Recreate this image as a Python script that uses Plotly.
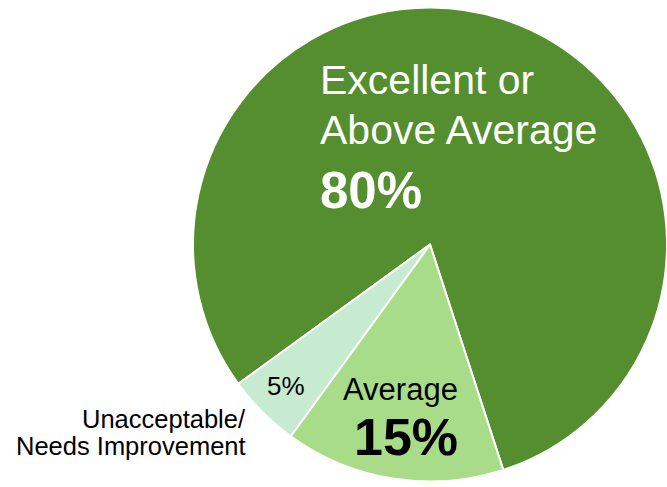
import plotly.graph_objects as go

# Survey rating shares
categories = ["Excellent or Above Average", "Average", "Unacceptable/ Needs Improvement"]
shares = [80, 15, 5]
slice_colors = ["#548E2E", "#A8DC88", "#C7EBD0"]

W, H = 667, 487
M = dict(l=193, r=0, t=7, b=5)
PW = W - M["l"] - M["r"]
PH = H - M["t"] - M["b"]


def px(x):
    return (x - M["l"]) / PW


def py(y):
    return 1 - (y - M["t"]) / PH


fig = go.Figure(
    go.Pie(
        labels=categories,
        values=shares,
        sort=False,
        direction="clockwise",
        rotation=234,
        marker=dict(colors=slice_colors, line=dict(color="white", width=2)),
        textinfo="none",
        hoverinfo="label+percent",
        showlegend=False,
    )
)

FONT = "Liberation Sans, Arial, sans-serif"
pct = [f"{v}%" for v in shares]

annotations = [
    # large slice
    dict(text="Excellent or", x=px(318), y=py(80), xanchor="left",
         font=dict(size=41, color="white")),
    dict(text="Above Average", x=px(318), y=py(129.5), xanchor="left",
         font=dict(size=41, color="white")),
    dict(text=f"<b>{pct[0]}</b>", x=px(318), y=py(190), xanchor="left",
         font=dict(size=51, color="white")),
    # middle slice
    dict(text="Average", x=px(400), y=py(389.5), xanchor="center",
         font=dict(size=31, color="black")),
    dict(text=f"<b>{pct[1]}</b>", x=px(406), y=py(436.5), xanchor="center",
         font=dict(size=52, color="black")),
    # small slice
    dict(text=pct[2], x=px(286), y=py(385.5), xanchor="center",
         font=dict(size=26, color="black")),
    dict(text="Unacceptable/", x=px(248), y=py(418.5), xanchor="right",
         font=dict(size=25.5, color="black")),
    dict(text="Needs Improvement", x=px(248), y=py(446), xanchor="right",
         font=dict(size=25.5, color="black")),
]
for a in annotations:
    a.update(xref="paper", yref="paper", yanchor="middle", showarrow=False)
    a["font"]["family"] = FONT

fig.update_layout(
    width=W,
    height=H,
    margin=M,
    paper_bgcolor="white",
    plot_bgcolor="white",
    annotations=annotations,
    font=dict(family=FONT),
)

fig.write_html("out.html")
